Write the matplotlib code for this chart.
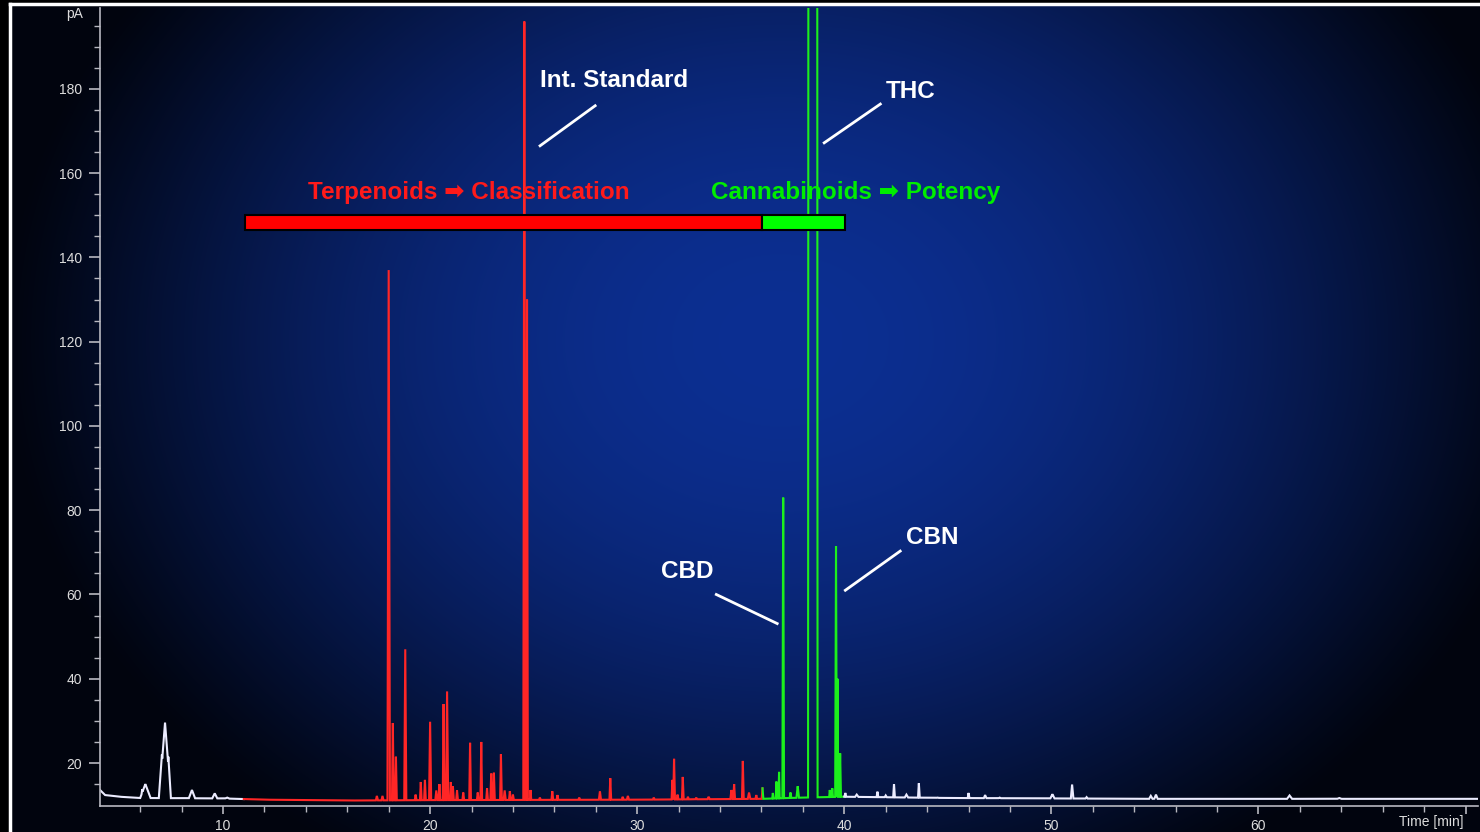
import numpy as np
import matplotlib
matplotlib.use("Agg")
import matplotlib.pyplot as plt
from matplotlib.patches import Rectangle
from matplotlib.lines import Line2D

plt.rcParams['font.family'] = ['Liberation Sans', 'DejaVu Sans']

# chromatogram peaks: retention time [min], height [pA], half width [min]
peak_time = [6.1, 6.25, 7.05, 7.2, 7.36, 8.5, 9.6, 10.2,
             17.43, 17.7, 18.0, 18.2, 18.35, 18.8, 19.3, 19.55, 19.75, 20.0,
             20.3, 20.45, 20.65, 20.82, 21.0, 21.1, 21.3, 21.6, 21.93, 22.3,
             22.47, 22.75, 22.95, 23.08, 23.42, 23.6, 23.85, 24.0, 24.55, 24.68,
             24.85, 25.3, 25.9, 26.15, 27.2, 28.2, 28.7, 29.3, 29.55, 30.8,
             31.7, 31.78, 31.95, 32.2, 32.45, 32.85, 33.45, 34.55, 34.68, 35.1,
             35.4, 35.75, 36.05,
             36.55, 36.72, 36.85, 37.05, 37.4, 37.75, 38.48, 39.3, 39.42, 39.6,
             39.67, 39.8,
             40.05, 40.6, 41.6, 42.0, 42.4, 43.0, 43.6, 44.5, 46.0, 46.8, 47.5,
             50.05, 51.0, 51.7, 54.8, 55.05, 61.5, 63.9]
peak_height = [13.8, 15.0, 22.0, 29.6, 21.5, 13.6, 12.8, 11.8,
               12.2, 12.2, 137.0, 29.5, 21.5, 47.0, 12.5, 15.5, 16.0, 29.8,
               13.5, 15.0, 34.0, 37.0, 15.5, 14.5, 13.5, 13.0, 24.8, 13.0,
               25.0, 14.0, 17.5, 17.7, 22.1, 13.5, 13.3, 12.5, 196.0, 130.0,
               13.6, 11.8, 13.3, 12.4, 11.8, 13.3, 16.4, 12.0, 12.2, 11.8,
               16.0, 21.0, 12.5, 16.7, 12.0, 11.8, 12.0, 13.6, 15.0, 20.5,
               13.0, 12.4, 14.0,
               12.9, 15.6, 17.9, 83.0, 13.0, 14.5, 3000.0, 13.6, 14.0, 71.5,
               40.0, 22.3,
               12.9, 12.5, 13.2, 12.3, 15.0, 12.5, 15.2, 11.8, 12.9, 12.4, 11.8,
               12.6, 14.9, 11.9, 12.2, 12.5, 12.3, 11.7]
peak_width = [0.06, 0.25, 0.15, 0.28, 0.12, 0.15, 0.12, 0.1,
              0.05, 0.05, 0.06, 0.04, 0.04, 0.05, 0.04, 0.04, 0.04, 0.05,
              0.05, 0.04, 0.04, 0.05, 0.04, 0.04, 0.04, 0.04, 0.04, 0.04,
              0.04, 0.04, 0.04, 0.04, 0.04, 0.05, 0.04, 0.04, 0.05, 0.04,
              0.03, 0.04, 0.04, 0.04, 0.04, 0.05, 0.04, 0.04, 0.05, 0.04,
              0.04, 0.04, 0.04, 0.04, 0.04, 0.04, 0.05, 0.05, 0.04, 0.04,
              0.06, 0.04, 0.04,
              0.03, 0.03, 0.03, 0.04, 0.04, 0.06, 0.23, 0.03, 0.03, 0.04,
              0.03, 0.04,
              0.04, 0.08, 0.04, 0.05, 0.04, 0.08, 0.04, 0.05, 0.04, 0.06, 0.05,
              0.1, 0.06, 0.05, 0.08, 0.08, 0.12, 0.1]

# baseline level [pA]
base_time = [4.06, 4.3, 5.0, 6.0, 10.0, 12.0, 16.0, 20.0, 30.0, 36.0, 38.0, 40.0, 45.0, 55.0, 70.6]
base_level = [13.6, 12.4, 12.0, 11.7, 11.6, 11.3, 11.1, 11.2, 11.3, 11.5, 11.8, 12.0, 11.7, 11.5, 11.5]

# coloured sections of the trace
section_start = [4.06, 11.0, 36.05, 40.0]
section_end = [11.0, 36.05, 40.0, 70.6]
section_color = ['#ececff', '#ff2626', '#1cf01c', '#ececff']

# class bar
bar_start = [11.06, 36.04]
bar_end = [36.04, 40.05]
bar_color = ['#ff0000', '#00ff00']


def build_trace():
    # piecewise linear peaks on top of the baseline, overlapping peaks take the max
    pt = np.array(peak_time)
    pw = np.array(peak_width)
    x = np.union1d(np.arange(4.06, 70.6, 0.004), np.concatenate([pt - pw, pt, pt + pw]))
    base = np.interp(x, base_time, base_level)
    top = np.zeros_like(x)
    for t, h, w in zip(peak_time, peak_height, peak_width):
        b = np.interp(t, base_time, base_level)
        tri = np.interp(x, [t - w, t, t + w], [0, h - b, 0], left=0, right=0)
        top = np.maximum(top, tri)
    return x, base + top


fig = plt.figure(figsize=(14.8, 8.32), dpi=100, facecolor='black')

# background glow
bg = fig.add_axes([10 / 1480, 0, 1 - 10 / 1480, 1 - 4 / 832])
bg.set_axis_off()
gx, gy = np.meshgrid(np.arange(10, 1480), np.arange(4, 832))
r2 = ((gx - 780) / 780.0) ** 2 + ((gy - 340) / 620.0) ** 2
f = np.clip(1 - r2, 0, 1) ** 1.2
dark = np.array([1, 4, 14]) / 255.0
bright = np.array([12, 47, 146]) / 255.0
img = dark[None, None, :] + f[:, :, None] * (bright - dark)[None, None, :]
bg.imshow(img, aspect='auto', interpolation='bilinear')

fig.add_artist(Line2D([10 / 1480, 10 / 1480], [0, 1 - 4 / 832], color='white', lw=2.5))
fig.add_artist(Line2D([10 / 1480, 1], [1 - 4 / 832, 1 - 4 / 832], color='white', lw=2.5))

ax = fig.add_axes([100 / 1480, 26 / 832, 1378 / 1480, 798 / 832])
ax.set_facecolor('none')
ax.set_xlim(4.06, 70.6)
ax.set_ylim(9.8, 199.2)

x, y = build_trace()
for s, e, c in zip(section_start, section_end, section_color):
    m = (x >= s) & (x <= e)
    ax.plot(x[m], y[m], color=c, lw=1.5, solid_joinstyle='miter')

for s, e, c in zip(bar_start, bar_end, bar_color):
    ax.add_patch(Rectangle((s, 146.5), e - s, 3.5, facecolor=c, edgecolor='black', lw=1.5, zorder=5))

lab = dict(color='white', fontsize=17.5, fontweight='bold', va='center')
ax.text(25.31, 182.1, 'Int. Standard', ha='left', **lab)
ax.plot([25.31, 27.97], [166.5, 176.0], color='white', lw=2)
ax.text(41.98, 179.3, 'THC', ha='left', **lab)
ax.plot([39.03, 41.74], [167.2, 176.4], color='white', lw=2)
ax.text(32.42, 65.5, 'CBD', ha='center', **lab)
ax.plot([33.82, 36.76], [60.0, 53.1], color='white', lw=2)
ax.text(43.0, 73.6, 'CBN', ha='left', **lab)
ax.plot([40.05, 42.7], [61.0, 70.3], color='white', lw=2)

ax.text(14.1, 155.5, 'Terpenoids \u27a1 Classification', ha='left', color='#ff1a1a',
        fontsize=17.5, fontweight='bold', va='center')
ax.text(33.57, 155.5, 'Cannabinoids \u27a1 Potency', ha='left', color='#00ee00',
        fontsize=17.5, fontweight='bold', va='center')

for sp in ['top', 'right']:
    ax.spines[sp].set_visible(False)
for sp in ['left', 'bottom']:
    ax.spines[sp].set_color('#b8b8c0')
    ax.spines[sp].set_linewidth(1.2)

ax.set_xticks([10, 20, 30, 40, 50, 60, 70])
ax.set_xticklabels(['10', '20', '30', '40', '50', '60', ''])
ax.set_xticks(np.arange(6, 71, 2), minor=True)
ax.set_yticks(np.arange(20, 181, 20))
ax.set_yticks(np.arange(15, 200, 5), minor=True)
ax.tick_params(axis='both', which='both', colors='#b8b8c0', labelcolor='#dcdcdc', labelsize=10)
ax.tick_params(axis='x', which='major', length=6, width=1.2, pad=3)
ax.tick_params(axis='x', which='minor', length=4, width=1)
ax.tick_params(axis='y', which='major', length=8, width=1.2, pad=5)
ax.tick_params(axis='y', which='minor', length=4, width=1)

fig.text(75 / 1480, 1 - 14 / 832, 'pA', color='#dcdcdc', fontsize=10, ha='center', va='center')
fig.text(1431 / 1480, 1 - 822 / 832, 'Time [min]', color='#dcdcdc', fontsize=10, ha='center', va='center')

fig.savefig('out.png', dpi=100, facecolor='black')
